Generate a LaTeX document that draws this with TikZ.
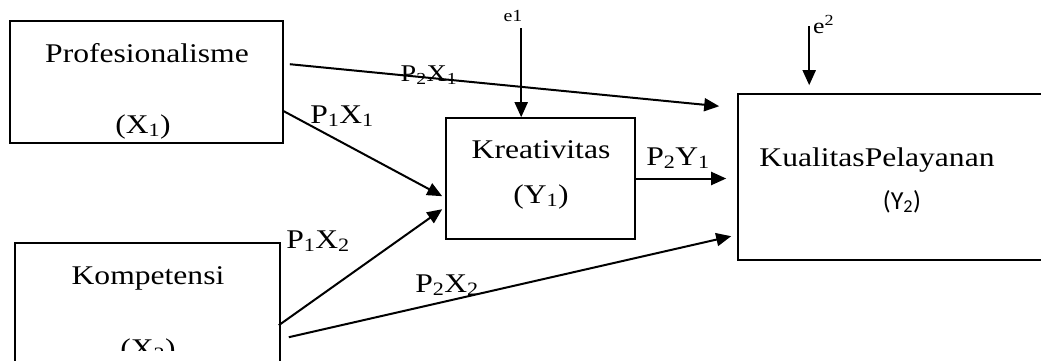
\documentclass[tikz,border=0pt]{standalone}
\usepackage{fontspec}
\setmainfont{Liberation Serif}[FakeStretch=1.17]
\newfontfamily\pathsans{Carlito}
\usetikzlibrary{arrows.meta,calc,positioning}

\begin{document}
\begin{tikzpicture}[x=1pt,y=-1pt,
  font=\fontsize{27}{30}\selectfont,
  pathbox/.style={draw,line width=1.6pt,inner sep=0pt},
  pathtext/.style={anchor=base,inner sep=0pt},
  patharrow/.style={line width=2pt,-{Triangle[length=15pt,width=13pt]}}]
  \fill[white] (0,0) rectangle (1041,360);
  \useasboundingbox (0,0) rectangle (1041,360);

  % variable boxes
  \node[pathbox,minimum width=273pt,minimum height=122pt] (x1) at (146.5,82) {};
  \node[pathbox,minimum width=265pt,minimum height=177pt] (x2) at (147.5,331.5) {};
  \node[pathbox,minimum width=189pt,minimum height=121pt] (y1) at (540.5,178.5) {};
  \node[pathbox,minimum width=322pt,minimum height=166pt] (y2) at (899,177) {};

  \node[pathtext] (x1name) at (147,62) {Profesionalisme};
  \node[pathtext] (x1sym) at (143,133) {(X\textsubscript{1})};
  \node[pathtext] (x2name) at (148,284) {Kompetensi};
  \begin{scope}
    \clip (0,0) rectangle (1041,350);
    \node[pathtext] (x2sym) at (148,357) {(X\textsubscript{2})};
  \end{scope}
  \node[pathtext] (y1name) at (541,158) {Kreativitas};
  \node[pathtext] (y1sym) at (541,203) {(Y\textsubscript{1})};
  \node[pathtext] (y2name) at (877,166) {KualitasPelayanan};
  \node[pathtext,font=\pathsans\fontsize{26}{29}\selectfont] (y2sym) at (902,209) {(Y\textsubscript{2})};

  % residuals
  \node[pathtext,font=\fontsize{17}{19}\selectfont] (e1) at (513,21) {e1};
  \node[anchor=base west,inner sep=0pt,font=\fontsize{22}{24}\selectfont] (e2) at (813,33) {e\textsuperscript{2}};
  \coordinate (e1top) at ($(y1.north west)+(76,-89)$);
  \coordinate (e2top) at ($(y2.north west)+(72,-67)$);
  \draw[patharrow] (e1top) -- ($(y1.north west)+(76,0)$);
  \draw[patharrow] (e2top) -- ($(y2.north west)+(72,-8)$);

  % paths
  \coordinate (x1p2) at ($(x1.north east)+(6,44)$);
  \coordinate (x1p1) at ($(x1.north east)+(0,91)$);
  \coordinate (x2p1) at ($(x2.north east)+(-2,83)$);
  \coordinate (x2p2) at ($(x2.north east)+(8,95)$);
  \draw[patharrow] (x1p2) -- ($(y2.north west)+(-18,13)$);
  \draw[patharrow] (x1p1) -- ($(y1.north west)+(-3,79)$);
  \draw[patharrow] (x2p1) -- ($(y1.north west)+(-3,92)$);
  \draw[patharrow] (x2p2) -- ($(y2.north west)+(-6,143)$);
  \draw[patharrow] (y1.east) -- ($(y2.west |- y1.east)+(-11,0)$);

  \node[pathtext,font=\fontsize{24}{27}\selectfont] (lp2x1) at (429,81) {P\textsubscript{2}X\textsubscript{1}};
  \node[pathtext] (lp1x1) at (342,123) {P\textsubscript{1}X\textsubscript{1}};
  \node[pathtext] (lp1x2) at (318,248) {P\textsubscript{1}X\textsubscript{2}};
  \node[pathtext] (lp2x2) at (447,292) {P\textsubscript{2}X\textsubscript{2}};
  \node[pathtext] (lp2y1) at (678,165) {P\textsubscript{2}Y\textsubscript{1}};
\end{tikzpicture}
\end{document}
